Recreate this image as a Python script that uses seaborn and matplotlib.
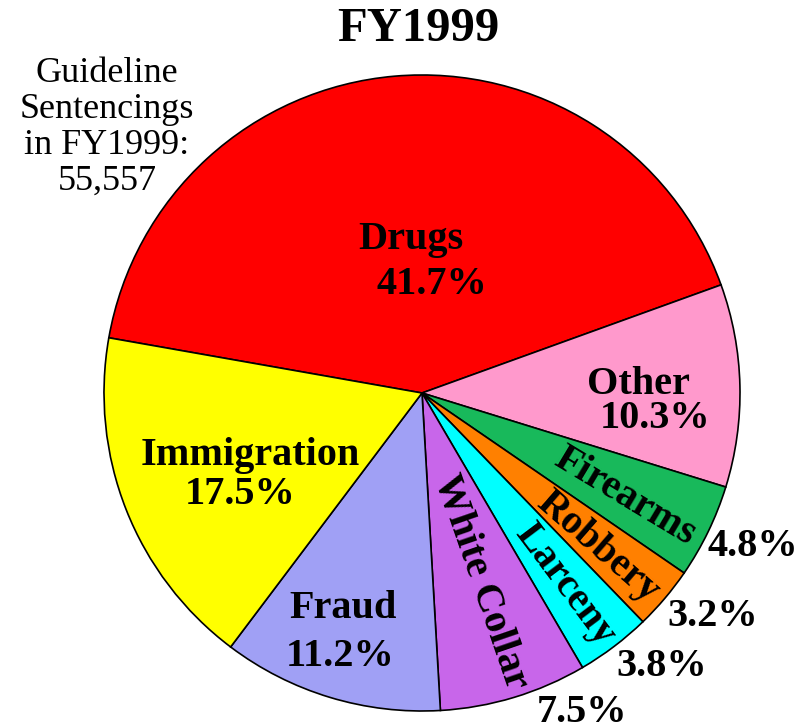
import matplotlib
matplotlib.use("Agg")
import matplotlib.pyplot as plt
import seaborn as sns

# Offense categories, clockwise from Drugs
categories = ["Drugs", "Other", "Firearms", "Robbery", "Larceny", "White Collar", "Fraud", "Immigration"]
shares = [41.7, 10.3, 4.8, 3.2, 3.8, 7.5, 11.2, 17.5]
colors = ["#FF0000", "#FF99CC", "#18B95B", "#FF8000", "#00FFFF", "#C866EA", "#A0A0F5", "#FFFF00"]
pct_labels = ["%.1f%%" % v for v in shares]
total_label = "Guideline\nSentencings\nin FY1999:\n55,557"

sns.set_style("white")
plt.rcParams["font.family"] = ["Liberation Serif", "DejaVu Serif"]
plt.rcParams["text.color"] = "black"

W, H = 810, 723
fig = plt.figure(figsize=(W / 100, H / 100), dpi=100)
cx, cy, r = 422, 393, 318
ax = fig.add_axes([(cx - r) / W, (H - cy - r) / H, 2 * r / W, 2 * r / H])

wedges, _ = ax.pie(shares, colors=colors, startangle=170, counterclock=False,
                   wedgeprops=dict(edgecolor="black", linewidth=1.2))
ax.set_xlim(-1, 1)
ax.set_ylim(-1, 1)
ax.set_aspect("equal")
ax.axis("off")


def pix(x, y):
    # image pixel -> pie data coords
    return (x - cx) / r, (cy - y) / r


bold = dict(fontweight="bold", ha="center", va="center", color="black", fontsize=29)

# labels inside the big wedges
inside = {
    "Drugs": ((411, 240), (432, 285)),
    "Other": ((638, 385), (655, 418)),
    "Immigration": ((250, 455), (240, 494)),
    "Fraud": ((343, 608), (340, 657)),
}
for name, (p1, p2) in inside.items():
    i = categories.index(name)
    ax.text(*pix(*p1), name, **bold)
    ax.text(*pix(*p2), pct_labels[i], **bold)

# rotated labels in the thin wedges, percentage outside
thin = {
    "Firearms": ((625, 497), -31, (753, 547)),
    "Robbery": ((598, 547), -41, (713, 617)),
    "Larceny": ((565, 585), -53, (662, 667)),
    "White Collar": ((481, 582), -71, (582, 712)),
}
for name, (p, rot, q) in thin.items():
    i = categories.index(name)
    ax.text(*pix(*p), name, rotation=rot, rotation_mode="anchor", **bold)
    ax.text(*pix(*q), pct_labels[i], **bold)

fig.text(418 / W, 1 - 29 / H, "FY1999", fontsize=35, fontweight="bold", ha="center", va="center")
fig.text(107 / W, 1 - 127 / H, total_label, fontsize=26, ha="center", va="center", linespacing=1.12)

fig.savefig("out.png", dpi=100)
